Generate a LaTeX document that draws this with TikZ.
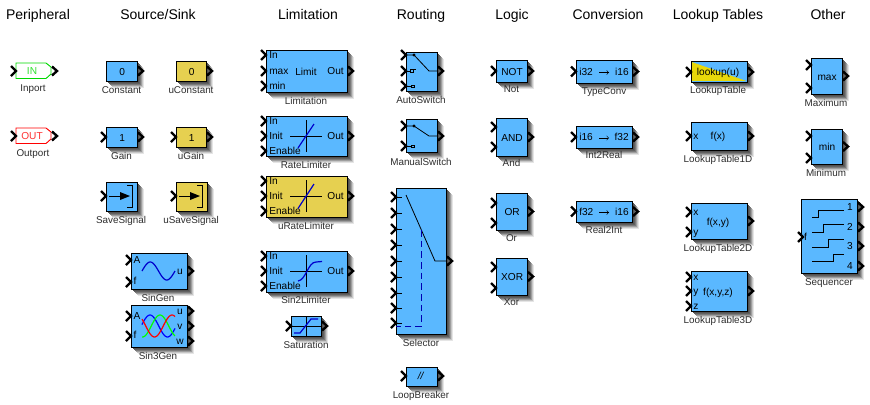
\documentclass[tikz,border=0pt]{standalone}
\usepackage{fontspec}
\setmainfont{Liberation Sans}
\usetikzlibrary{positioning,calc}
\definecolor{blockblue}{RGB}{90,184,255}
\definecolor{blockgold}{RGB}{230,208,80}
\definecolor{lookyellow}{RGB}{232,216,10}
\definecolor{labelgrey}{RGB}{45,45,45}
\tikzset{
  grouptitle/.style={font=\fontsize{10.5}{12}\selectfont,text=black,anchor=base},
  blocklabel/.style={font=\fontsize{7.4}{9}\selectfont,text=labelgrey,inner sep=0pt,text height=5.3pt,text depth=0pt},
  blocktext/.style={font=\fontsize{7.6}{9}\selectfont,text=black,inner sep=0pt,text height=5.4pt,text depth=0pt},
  portmark/.style={draw=black,line width=1.8pt,line join=miter},
  curve/.style={line width=0.9pt},
  blockbox/.style={draw=black,line width=0.9pt,inner sep=0pt},
}
% block with corners in pixels of the sheet
\newcommand{\simblock}[6]{%
  \foreach \s/\g in {7/10,6/22,5/38,4/52,3/62,2/68,1/72}{\fill[black!\g] ({#2+\s},{#3+\s}) rectangle ({#4+\s},{#5+\s});}
  \node[blockbox,fill=#6,anchor=north west,minimum width=(#4-#2)*0.75pt,minimum height=(#5-#3)*0.75pt] (#1) at ({#2},{#3}) {};
}
\newcommand{\inmark}[2]{\draw[portmark] ({#1-5},{#2-5}) -- ({#1},{#2}) -- ({#1-5},{#2+5});}
\newcommand{\outmark}[2]{\draw[portmark] ({#1+1},{#2-4.5}) -- ({#1+6},{#2}) -- ({#1+1},{#2+4.5});}
\begin{document}
\begin{tikzpicture}[x=0.75pt,y=-0.75pt]
  \useasboundingbox (0,0) rectangle (870,404);

  % column headers
  \foreach \name/\xpos in {Peripheral/38,{Source/Sink}/158,Limitation/308,Routing/421,Logic/512,Conversion/608,Lookup Tables/718,Other/828}{
    \node[grouptitle] (title\xpos) at (\xpos,19) {\name};
  }

  % peripheral
  \foreach \name/\ypos/\txt/\col in {Inport/63/IN/green!85!black,Outport/128/OUT/red}{
    \draw[draw=\col,line width=0.7pt,fill=white] (16,\ypos) -- (46,\ypos) -- (51,\ypos+4) -- (51,\ypos+11) -- (46,\ypos+15.5) -- (16,\ypos+15.5) -- cycle;
    \node[blocktext,text=\col!80!white] (txt\name) at (32,\ypos+8) {\txt};
    \inmark{16}{\ypos+8}
    \outmark{51}{\ypos+8}
    \node[blocklabel] (lab\name) at (33,\ypos+24.5) {\name};
  }

  % sources, name/left/top/right/bottom/colour/text
  \foreach \name/\xa/\ya/\xb/\yb/\col/\txt in {
    Constant/106/61/137/81/blockblue/0,
    uConstant/176/61/206/81/blockgold/0,
    Gain/106/127/137/147/blockblue/1,
    uGain/176/127/206/147/blockgold/1}{
    \simblock{\name}{\xa}{\ya}{\xb}{\yb}{\col}
    \node[blocktext] (txt\name) at (\name) {\txt};
    \outmark{\xb}{(\ya+\yb)/2}
    \node[blocklabel] (lab\name) at ({(\xa+\xb)/2},\yb+9) {\name};
  }
  \inmark{106}{137}
  \inmark{176}{137}
  \foreach \name/\xa/\col in {SaveSignal/106/blockblue,uSaveSignal/176/blockgold}{
    \simblock{\name}{\xa}{182}{\xa+31}{211}{\col}
    \inmark{\xa}{196}
    \draw[line width=0.6pt] (\xa+3,196) -- (\xa+15,196);
    \fill (\xa+14,192) -- (\xa+24,196) -- (\xa+14,200) -- cycle;
    \draw[line width=0.6pt] (\xa+21,185) -- (\xa+26,185) -- (\xa+26,207) -- (\xa+21,207);
    \node[blocklabel] (lab\name) at (\xa+15,219.5) {\name};
  }
  \simblock{SinGen}{131}{253}{187}{289}{blockblue}
  \inmark{131}{260}
  \inmark{131}{282}
  \outmark{187}{271}
  \node[blocktext] (tA) at (137,260) {A};
  \node[blocktext] (tf) at (135,281) {f};
  \node[blocktext] (tu) at (180,271) {u};
  \draw[blue!80!black,curve,domain=0:360,samples=40,smooth] plot ({142+\x/360*33},{271-9*sin(\x)});
  \node[blocklabel] (labSinGen) at (158,297.5) {SinGen};
  \simblock{SinThree}{131}{305}{187}{347}{blockblue}
  \inmark{131}{316}
  \inmark{131}{336}
  \foreach \ypos in {311,326,341}{ \outmark{187}{\ypos} }
  \node[blocktext] (tA3) at (137,316) {A};
  \node[blocktext] (tf3) at (135,335) {f};
  \node[blocktext] (tu3) at (180,311) {u};
  \node[blocktext] (tv3) at (180,326) {v};
  \node[blocktext] (tw3) at (180,341) {w};
  \foreach \col/\peak in {blue/150,green/160,red/172}{
    \draw[\col,curve,domain=142:175,samples=34,smooth] plot ({\x},{326-11*cos((\x-\peak)*360/35)});
  }
  \node[blocklabel] (labSinThree) at (158,355.5) {Sin3Gen};

  % limitation
  \simblock{Limitation}{266}{50}{347}{92}{blockblue}
  \foreach \ypos/\txt in {55/In,71/max,86/min}{
    \inmark{266}{\ypos}
    \node[blocktext,anchor=west] (t\txt) at (269,\ypos) {\txt};
  }
  \outmark{347}{71}
  \node[blocktext] (tLimit) at (306,72) {Limit};
  \node[blocktext,anchor=east] (tOutA) at (344,71) {Out};
  \node[blocklabel] (labLimitation) at (306,101) {Limitation};
  \foreach \name/\ya/\yb/\col in {RateLimiter/116/156/blockblue,uRateLimiter/176/217/blockgold,SinTwo/251/292/blockblue}{
    \simblock{\name}{266}{\ya}{347}{\yb}{\col}
    \foreach \dy/\txt in {5/In,20/Init,35/Enable}{
      \inmark{266}{\ya+\dy}
      \node[blocktext,anchor=west] (t\name\dy) at (269,\ya+\dy) {\txt};
    }
    \outmark{347}{\ya+20}
    \node[blocktext,anchor=east] (tOut\name) at (344,\ya+20) {Out};
    \draw[line width=0.6pt] (290,\ya+20) -- (322,\ya+20);
    \draw[line width=0.6pt] (306.5,\ya+4) -- (306.5,\ya+36);
  }
  \draw[blue!80!black,curve] (298,148) -- (314,124);
  \draw[blue!80!black,curve] (298,208.5) -- (314,184);
  \draw[blue!80!black,curve] (298,281) .. controls (306,280) and (308,262) .. (316,262) -- (322,261.5);
  \node[blocklabel] (labRateLimiter) at (306,165) {RateLimiter};
  \node[blocklabel] (laburateLimiter) at (306,226) {uRateLimiter};
  \node[blocklabel] (labSinTwo) at (306,299.5) {Sin2Limiter};
  \simblock{Saturation}{291}{316}{321}{336}{blockblue}
  \inmark{291}{326}
  \outmark{321}{326}
  \draw[line width=0.5pt] (291,326) -- (321,326);
  \draw[line width=0.5pt] (306,316) -- (306,336);
  \draw[blue!80!black,curve] (294,333) -- (300,333) -- (311,319) -- (318,319);
  \node[blocklabel] (labSaturation) at (306,344.5) {Saturation};

  % routing
  \simblock{AutoSwitch}{406}{52}{437}{91}{blockblue}
  \foreach \ypos in {55,71,86}{ \inmark{406}{\ypos} }
  \outmark{437}{71}
  \draw[line width=0.6pt] (406,55) -- (414,55) -- (429,71) -- (437,71);
  \fill (414,55) circle (1.6);
  \draw[line width=0.6pt] (406,71) -- (410,71);
  \draw[line width=0.6pt] (410,69) rectangle (413,72);
  \draw[line width=0.6pt] (413,69.5) -- (416,69.5);
  \draw[line width=0.6pt] (406,86) -- (411,86);
  \draw[line width=0.6pt,fill=blockblue] (411,85) rectangle (414,87.5);
  \node[blocklabel] (labAutoSwitch) at (421,99.5) {AutoSwitch};
  \simblock{ManualSwitch}{406}{119}{437}{152}{blockblue}
  \inmark{406}{126}
  \inmark{406}{146}
  \outmark{437}{136}
  \draw[line width=0.6pt] (406,126) -- (414,126) -- (429,136) -- (437,136);
  \fill (414,126) circle (1.6);
  \draw[line width=0.6pt] (406,146) -- (411,146);
  \draw[line width=0.6pt,fill=blockblue] (411,145) rectangle (414,147.5);
  \node[blocklabel] (labManualSwitch) at (421,162) {ManualSwitch};
  \simblock{Selector}{396}{188}{446}{334}{blockblue}
  \foreach \ypos in {197,213,229,245,261,277,293,308,323}{
    \inmark{396}{\ypos}
    \draw[line width=0.4pt] (396,\ypos) -- (402,\ypos);
  }
  \outmark{446}{261}
  \draw[line width=0.6pt] (406,195) -- (435,261) -- (446,261);
  \draw[blue!70!black,line width=0.75pt,dash pattern=on 5pt off 3pt] (421.5,230) -- (421.5,326.5) -- (396,326.5);
  \node[blocklabel] (labSelector) at (421,343) {Selector};
  \simblock{LoopBreaker}{406}{367}{437}{386}{blockblue}
  \inmark{406}{376}
  \outmark{437}{376}
  \node[blocktext] (tLoop) at (421,376) {\textit{//}};
  \node[blocklabel] (labLoopBreaker) at (421,394.5) {LoopBreaker};

  % logic, name/top/bottom/text/label
  \foreach \name/\ya/\yb/\txt/\lab in {Not/60/82/NOT/89,And/118/156/AND/163,Or/193/230/OR/238,Xor/258/295/XOR/302}{
    \simblock{\name}{496}{\ya}{527}{\yb}{blockblue}
    \node[blocktext] (txt\name) at (\name) {\txt};
    \outmark{527}{(\ya+\yb)/2}
    \node[blocklabel] (lab\name) at (511.5,\lab) {\name};
  }
  \foreach \ypos in {71,127,147,203,223,267,288}{ \inmark{496}{\ypos} }

  % conversion
  \foreach \name/\ya/\yb/\from/\to/\lab in {TypeConv/60/83/i32/i16/91,Int2Real/126/148/i16/f32/155,Real2Int/201/222/f32/i16/230}{
    \simblock{\name}{576}{\ya}{632}{\yb}{blockblue}
    \inmark{576}{(\ya+\yb)/2}
    \outmark{632}{(\ya+\yb)/2}
    \node[blocktext,anchor=west] (from\name) at (579,{(\ya+\yb)/2}) {\from};
    \node[blocktext,anchor=east] (to\name) at (629,{(\ya+\yb)/2}) {\to};
    \draw[line width=0.4pt,-to] (599,{(\ya+\yb)/2+1}) -- (609,{(\ya+\yb)/2+1});
    \node[blocklabel] (lab\name) at (604,\lab) {\name};
  }

  % lookup tables
  \simblock{LookupTable}{691}{61}{747}{82}{blockblue}
  \fill[lookyellow] (692.2,62.2) -- (745.8,80.8) -- (692.2,80.8) -- cycle;
  \inmark{691}{72}
  \outmark{747}{72}
  \node[blocktext] (tlook) at (718,72) {lookup(u)};
  \node[blocklabel] (labLookupTable) at (718,89.5) {LookupTable};
  \simblock{LookupOne}{691}{122}{747}{150}{blockblue}
  \inmark{691}{136}
  \outmark{747}{136}
  \node[blocktext] (tx1) at (696,136) {x};
  \node[blocktext] (tf1) at (718,136) {f(x)};
  \node[blocklabel] (labLookupOne) at (718,159) {LookupTable1D};
  \simblock{LookupTwo}{691}{203}{747}{239}{blockblue}
  \inmark{691}{212}
  \inmark{691}{232}
  \outmark{747}{221}
  \node[blocktext] (tx2) at (696,212) {x};
  \node[blocktext] (ty2) at (696,232) {y};
  \node[blocktext] (tf2) at (718,222) {f(x,y)};
  \node[blocklabel] (labLookupTwo) at (718,247.5) {LookupTable2D};
  \simblock{LookupThree}{691}{271}{747}{311}{blockblue}
  \foreach \ypos/\txt in {277/x,291/y,306/z}{
    \inmark{691}{\ypos}
    \node[blocktext] (t3\txt) at (696,\ypos) {\txt};
  }
  \outmark{747}{291}
  \node[blocktext] (tf3d) at (718,292) {f(x,y,z)};
  \node[blocklabel] (labLookupThree) at (718,319.5) {LookupTable3D};

  % other
  \foreach \name/\ya/\yb/\txt/\lab in {Maximum/58/94/max/103,Minimum/129/164/min/173}{
    \simblock{\name}{811}{\ya}{842}{\yb}{blockblue}
    \node[blocktext] (txt\name) at (\name) {\txt};
    \inmark{811}{\ya+7}
    \inmark{811}{\yb-6}
    \outmark{842}{(\ya+\yb)/2}
    \node[blocklabel] (lab\name) at (826,\lab) {\name};
  }
  \simblock{Sequencer}{801}{199}{857}{273}{blockblue}
  \inmark{803}{237}
  \node[blocktext] (tfs) at (805.5,237) {f};
  \foreach \ypos/\txt in {207/1,227/2,246/3,266/4}{
    \outmark{857}{\ypos}
    \node[blocktext] (tq\txt) at (850,\ypos) {\txt};
  }
  \draw[line width=0.6pt] (812,217) -- (818,217) -- (818,210) -- (844,210);
  \draw[line width=0.6pt] (812,232) -- (823,232) -- (823,224) -- (844,224);
  \draw[line width=0.6pt] (812,247) -- (828,247) -- (828,239) -- (844,239);
  \draw[line width=0.6pt] (812,261) -- (833,261) -- (833,254) -- (844,254);
  \node[blocklabel] (labSequencer) at (829,281.5) {Sequencer};
\end{tikzpicture}
\end{document}
